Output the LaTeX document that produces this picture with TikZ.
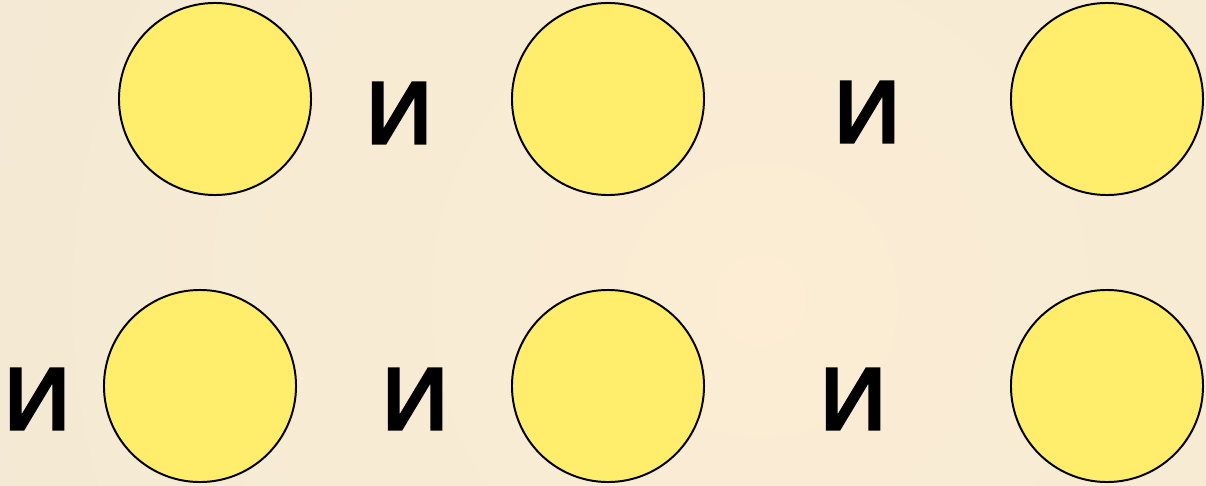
\documentclass[tikz,border=0pt]{standalone}
\usepackage{fontspec}
\newfontfamily\letterfont[FakeBold=1.6]{DejaVu Sans}
\definecolor{bgmid}{RGB}{252,237,212}
\definecolor{bgedge}{RGB}{240,232,212}
\definecolor{sunfill}{RGB}{255,237,107}
\begin{document}
\begin{tikzpicture}[
  x=0.025cm, y=-0.025cm,
  disc/.style={circle, draw=black, line width=1.4pt, fill=sunfill, minimum size=4.8cm, inner sep=0pt},
  conj/.style={font=\letterfont\fontsize{80}{80}\selectfont, inner sep=0pt, text=black}
]
\useasboundingbox (0,0) rectangle (1206,486);
\begin{scope}
  \clip (0,0) rectangle (1206,486);
  \fill[bgedge] (0,0) rectangle (1206,486);
  \shade[inner color=bgmid, outer color=bgedge] (760,300) circle (1100);
\end{scope}
% top row
\node[disc] (t1) at (215,99) {};
\node[disc] (t2) at (608,99) {};
\node[disc] (t3) at (1107,99) {};
\node[conj] (a1) at (399,113) {и};
\node[conj] (a2) at (867,112) {и};
% bottom row
\node[disc] (b1) at (200,386) {};
\node[disc] (b2) at (608,386) {};
\node[disc] (b3) at (1107,386) {};
\node[conj] (c1) at (37,399) {и};
\node[conj] (c2) at (415,399) {и};
\node[conj] (c3) at (853,399) {и};
\end{tikzpicture}
\end{document}
